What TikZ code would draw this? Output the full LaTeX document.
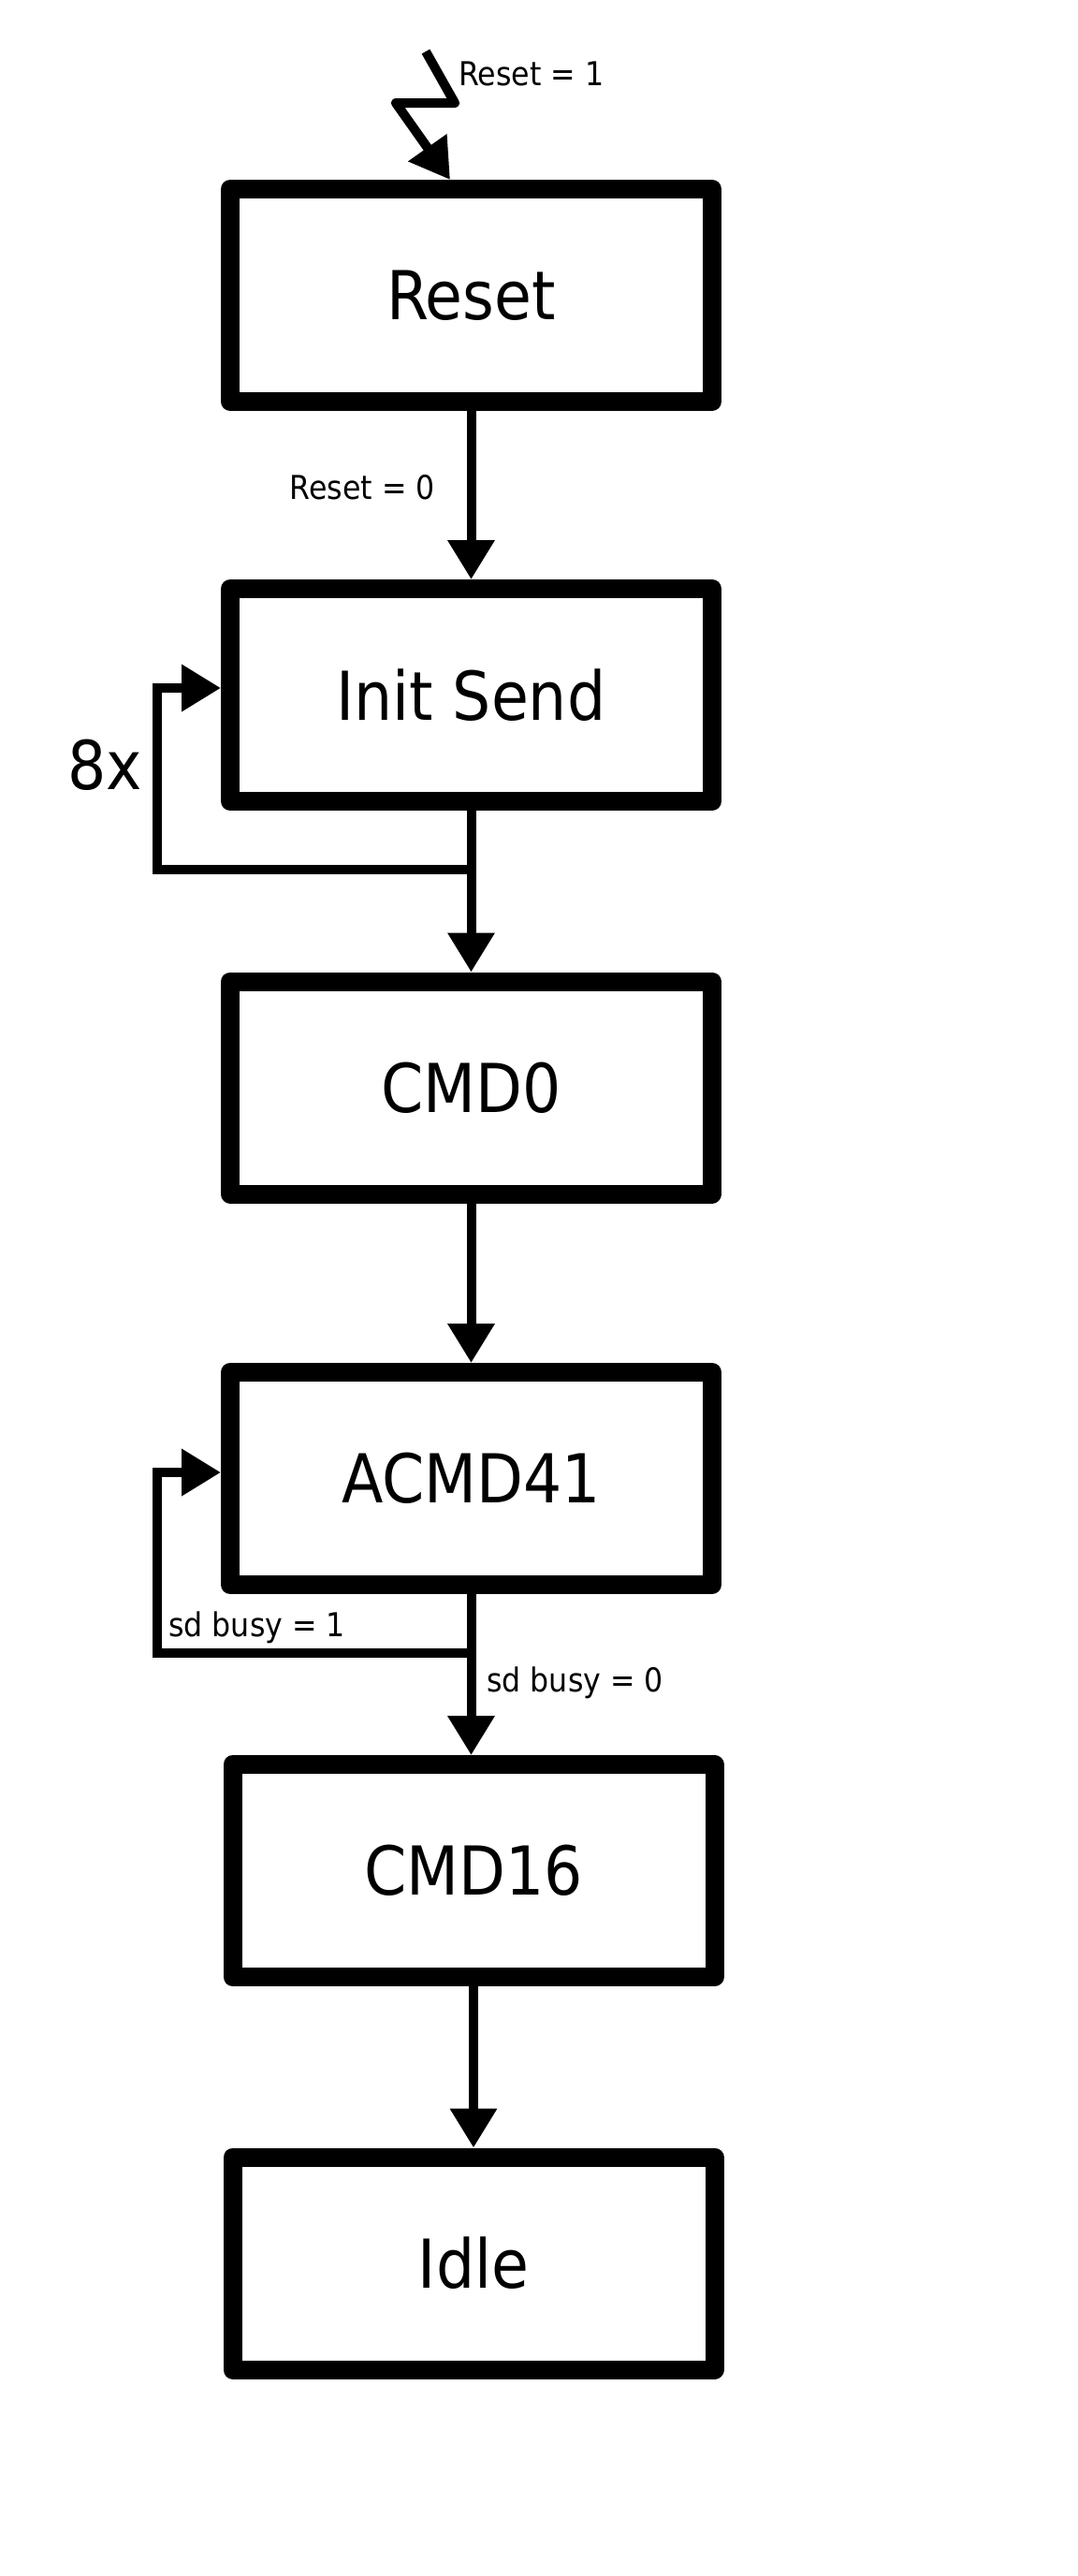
\documentclass[tikz,border=0pt]{standalone}
\usepackage{fontspec}
\setmainfont{DejaVu Sans Condensed}
\usetikzlibrary{arrows.meta}
\newcommand{\statefont}{\fontsize{41}{49}\selectfont}
\newcommand{\condfont}{\fontsize{20}{24}\selectfont}

\begin{document}
\begin{tikzpicture}[>={Triangle[length=0.84cm,width=0.96cm]},
    state/.style={draw, line width=0.4cm, line join=round, minimum width=10.3cm,
      minimum height=4.54cm, font=\statefont},
    flow/.style={->, line width=0.2cm},
    cond/.style={font=\condfont, inner sep=0pt}]
  \useasboundingbox (0,0) rectangle (23.04,-55.04);
  \node[state] (reset) at (10.07,-6.31) {Reset};
  \node[state] (init) at (10.07,-14.85) {Init Send};
  \node[state] (cmd0) at (10.07,-23.24) {CMD0};
  \node[state] (acmd41) at (10.07,-31.59) {ACMD41};
  \node[state] (cmd16) at (10.12,-39.97) {CMD16};
  \node[state] (idle) at (10.12,-48.36) {Idle};
  % reset input
  \coordinate (bolt) at (9.10,-1.10);
  \draw[flow, line join=round] (bolt) -- ++(0.62,-1.10) -- ++(-1.26,0) -- ([xshift=-0.45cm]reset.north);
  \node[cond, anchor=west] (rst1) at (9.80,-1.58) {Reset = 1};
  % main chain
  \draw[flow] (reset.south) -- (init.north);
  \node[cond, anchor=east] (rst0) at (9.30,-10.42) {Reset = 0};
  \draw[flow] (init.south) -- (cmd0.north);
  \draw[flow] (cmd0.south) -- (acmd41.north);
  \draw[flow] (acmd41.south) -- (acmd41.south |- cmd16.north);
  \node[cond, anchor=base west] (busy0) at (10.40,-36.14) {sd busy = 0};
  \draw[flow] (cmd16.south) -- (idle.north);
  % loops
  \coordinate (j1) at (10.07,-18.58);
  \draw[flow] (j1) -- ++(-6.71,0) |- ([yshift=0.15cm]init.west);
  \node[font=\statefont, inner sep=0pt] (times) at (2.24,-16.34) {8x};
  \coordinate (j2) at (10.07,-35.32);
  \draw[flow] (j2) -- ++(-6.71,0) |- ([yshift=0.13cm]acmd41.west);
  \node[cond, anchor=base west] (busy1) at (3.60,-34.96) {sd busy = 1};
\end{tikzpicture}
\end{document}
